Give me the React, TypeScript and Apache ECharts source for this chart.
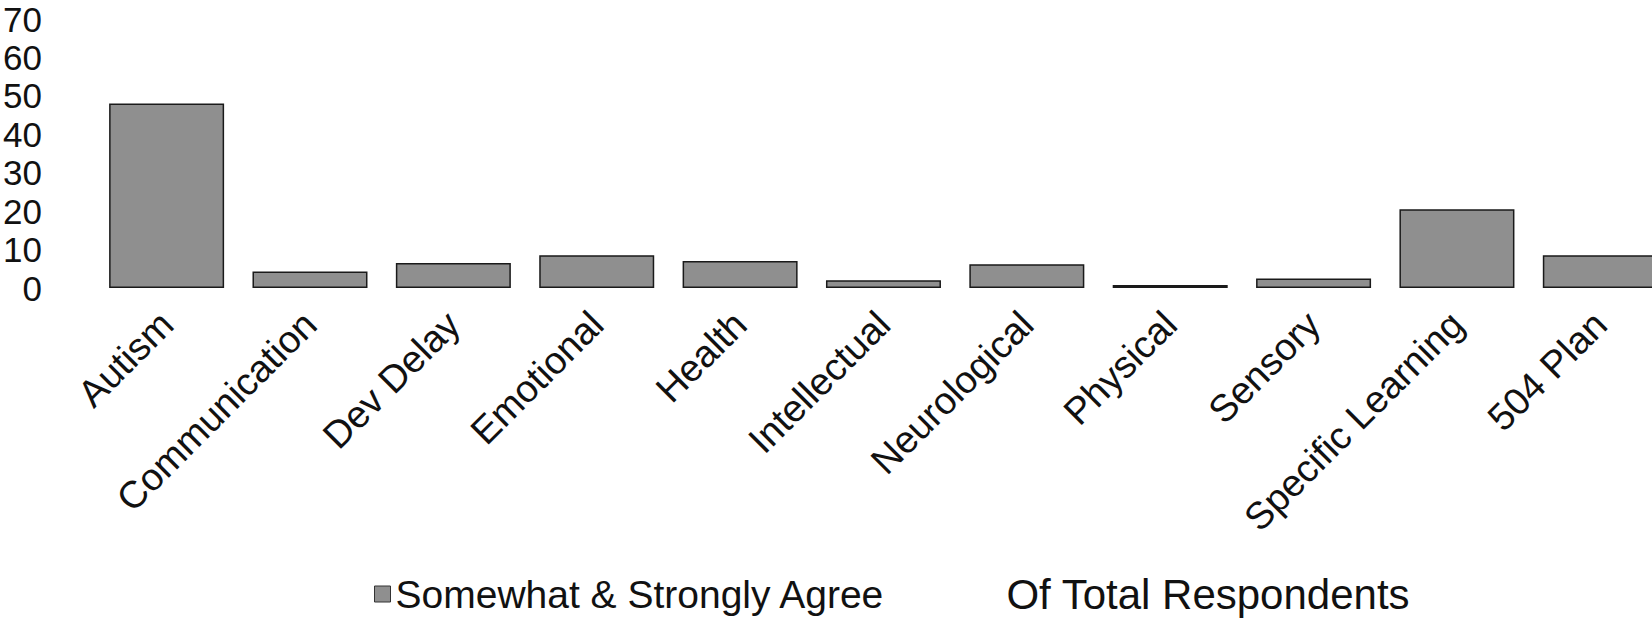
import React, { useEffect, useRef } from "react";
import * as echarts from "echarts";

// Disability categories along the x axis
const categories = [
  "Autism",
  "Communication",
  "Dev Delay",
  "Emotional",
  "Health",
  "Intellectual",
  "Neurological",
  "Physical",
  "Sensory",
  "Specific Learning",
  "504 Plan",
];

// Share of respondents who somewhat or strongly agree
const agreeValues = [48, 4.3, 6.5, 8.5, 7, 2, 6.2, 0.8, 2.5, 20.5, 8.5];

// Second legend entry, drawn in white
const totalValues: number[] = [];

const seriesNames = ["Somewhat & Strongly Agree", "Of Total Respondents"];

const FONT = "'Liberation Sans', Arial, sans-serif";

export default function App() {
  const ref = useRef<HTMLDivElement>(null);

  useEffect(() => {
    if (!ref.current) return;
    const chart = echarts.init(ref.current, undefined, { renderer: "svg" });
    chart.setOption({
      animation: false,
      backgroundColor: "#ffffff",
      // plot area runs a little past the right edge of the visible frame
      grid: { left: 93, right: 8, top: 19, bottom: 330, containLabel: false },
      legend: {
        left: 374,
        top: 573,
        itemWidth: 16,
        itemHeight: 16,
        itemGap: 100,
        padding: 0,
        textStyle: { fontFamily: FONT, fontSize: 39, color: "#111", lineHeight: 40 },
        data: [
          {
            name: seriesNames[0],
            icon: "rect",
            itemStyle: { color: "#8f8f8f", borderColor: "#333", borderWidth: 1 },
          },
          { name: seriesNames[1], icon: "none", textStyle: { fontSize: 42, lineHeight: 40 } },
        ],
      },
      xAxis: {
        type: "category",
        data: categories,
        axisLine: { show: false },
        axisTick: { show: false },
        axisLabel: {
          rotate: 45,
          interval: 0,
          margin: 30,
          fontFamily: FONT,
          fontSize: 38,
          color: "#111",
        },
      },
      yAxis: {
        type: "value",
        min: 0,
        max: 70,
        interval: 10,
        splitLine: { show: false },
        axisLine: { show: false },
        axisTick: { show: false },
        axisLabel: {
          margin: 53,
          fontFamily: FONT,
          fontSize: 35,
          color: "#111",
          lineHeight: 36,
        },
      },
      series: [
        {
          name: seriesNames[0],
          type: "bar",
          data: agreeValues,
          barWidth: 115,
          barGap: "-100%",
          itemStyle: { color: "#8f8f8f", borderColor: "#1a1a1a", borderWidth: 1.5 },
        },
        {
          name: seriesNames[1],
          type: "bar",
          data: totalValues,
          barWidth: 115,
          barGap: "-100%",
          itemStyle: { color: "#ffffff" },
        },
      ],
    });
    return () => chart.dispose();
  }, []);

  return (
    <div
      style={{
        position: "absolute",
        left: 0,
        top: 0,
        width: 1652,
        height: 618,
        overflow: "hidden",
        background: "#fff",
      }}
    >
      <div ref={ref} style={{ width: 1680, height: 618 }} />
    </div>
  );
}
